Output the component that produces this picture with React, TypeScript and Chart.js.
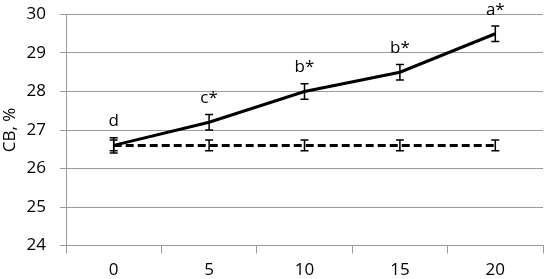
import React, { useEffect, useRef } from "react";
import { Chart, registerables } from "chart.js";

Chart.register(...registerables);

const categories = ["0", "5", "10", "15", "20"];
const treatedValues = [26.6, 27.2, 28.0, 28.5, 29.5];
const treatedErrors = [0.2, 0.2, 0.2, 0.2, 0.2];
const controlValues = [26.6, 26.6, 26.6, 26.6, 26.6];
const controlErrors = [0.14, 0.14, 0.14, 0.14, 0.14];
const significanceLabels = ["d", "c*", "b*", "b*", "a*"];
const yMin = 24;
const yMax = 30;
const yStep = 1;
const yTitle = "CB, %";

const FONT = "'Open Sans', 'Liberation Sans', sans-serif";
const FS = 17;
const GRID = "#9a9a9a";
const INK = "#000000";

const errorBarPlugin = {
  id: "errorBars",
  afterDatasetsDraw(chart: any) {
    const ctx = chart.ctx;
    const yScale = chart.scales.y;
    chart.data.datasets.forEach((ds: any, i: number) => {
      const meta = chart.getDatasetMeta(i);
      const errs: number[] = ds.errors || [];
      ds.data.forEach((v: number, j: number) => {
        const pt = meta.data[j];
        if (!pt) return;
        const x = pt.x;
        const yTop = yScale.getPixelForValue(v + errs[j]);
        const yBot = yScale.getPixelForValue(v - errs[j]);
        ctx.save();
        ctx.strokeStyle = "#000";
        ctx.lineWidth = 1.5;
        ctx.setLineDash([]);
        ctx.beginPath();
        ctx.moveTo(x, yTop);
        ctx.lineTo(x, yBot);
        ctx.moveTo(x - 4, yTop);
        ctx.lineTo(x + 4, yTop);
        ctx.moveTo(x - 4, yBot);
        ctx.lineTo(x + 4, yBot);
        ctx.stroke();
        ctx.restore();
        if (ds.sigLabels) {
          ctx.save();
          ctx.fillStyle = INK;
          ctx.font = `${FS}px ${FONT}`;
          ctx.textAlign = "center";
          ctx.textBaseline = "alphabetic";
          ctx.fillText(ds.sigLabels[j], x, yTop - 11.5);
          ctx.restore();
        }
      });
    });
  },
};

export default function App() {
  const canvasRef = useRef<HTMLCanvasElement | null>(null);

  useEffect(() => {
    if (!canvasRef.current) return;
    const chart = new Chart(canvasRef.current, {
      type: "line",
      data: {
        labels: categories,
        datasets: [
          {
            label: "control",
            data: controlValues,
            errors: controlErrors,
            borderColor: "#000",
            borderWidth: 3,
            borderDash: [8, 4],
            pointRadius: 0,
            tension: 0,
            fill: false,
          } as any,
          {
            label: "treated",
            data: treatedValues,
            errors: treatedErrors,
            sigLabels: significanceLabels,
            borderColor: "#000",
            borderWidth: 3,
            pointRadius: 0,
            tension: 0,
            fill: false,
          } as any,
        ],
      },
      options: {
        responsive: false,
        animation: false,
        layout: { padding: { top: 14.5, right: 1, left: 0, bottom: 0 } },
        plugins: {
          legend: { display: false },
          tooltip: { enabled: false },
        },
        scales: {
          x: {
            offset: true,
            grid: {
              offset: true,
              drawOnChartArea: false,
              drawTicks: true,
              tickLength: 8,
              color: GRID,
            },
            border: { color: GRID },
            ticks: {
              color: INK,
              font: { family: FONT, size: FS },
              padding: 6,
              maxRotation: 0,
            },
            afterFit: (s: any) => {
              s.height = 33.5;
              s.paddingLeft = 0;
              s.paddingRight = 0;
            },
          },
          y: {
            min: yMin,
            max: yMax,
            grid: { color: GRID, tickLength: 6 },
            border: { color: GRID },
            ticks: {
              stepSize: yStep,
              color: INK,
              font: { family: FONT, size: FS },
              padding: 14,
            },
            title: {
              display: true,
              text: yTitle,
              color: INK,
              font: { family: FONT, size: FS },
              padding: { top: 0, bottom: 0 },
            },
            afterFit: (s: any) => {
              s.width = 66;
              s.paddingTop = 0;
              s.paddingBottom = 0;
            },
          },
        },
      },
      plugins: [errorBarPlugin],
    } as any);
    return () => chart.destroy();
  }, []);

  return (
    <div style={{ position: "absolute", left: 0, top: 0, width: 544, height: 279 }}>
      <canvas ref={canvasRef} width={544} height={279} />
    </div>
  );
}
